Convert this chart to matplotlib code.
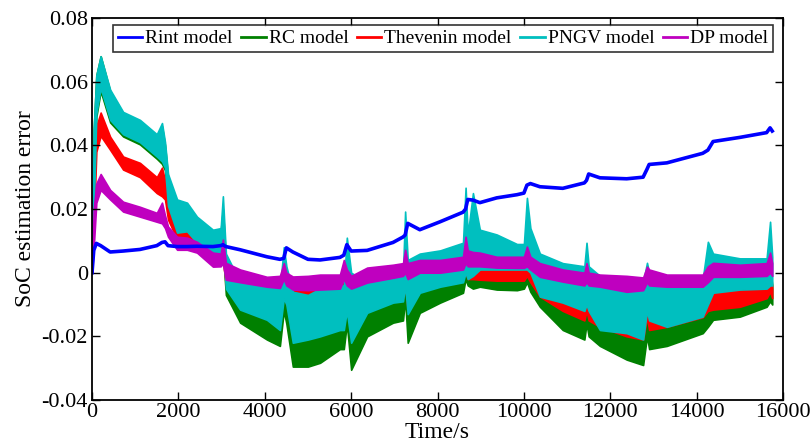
import numpy as np
import matplotlib.pyplot as plt
from matplotlib.lines import Line2D

plt.rcParams['font.family'] = ['Liberation Serif', 'DejaVu Serif']

# time stamps (s) at which the curves were read
t = [0, 40, 100, 200, 420, 720, 1110, 1500, 1620, 1690, 1760, 1970, 2200, 2430,
     2800, 2980, 3030, 3100, 3430, 4050, 4350, 4440, 4500, 4650, 5000, 5280,
     5740, 5830, 5900, 6000, 6370, 6970, 7200, 7250, 7310, 7590, 8060, 8590,
     8650, 8700, 8820, 8980, 9370, 9840, 10000, 10070, 10150, 10370, 10900,
     11400, 11450, 11500, 11760, 12380, 12760, 12850, 12900, 13310, 14140,
     14260, 14380, 15000, 15620, 15700, 15750]

rint = [0.0, 0.007, 0.0092, 0.0085, 0.0065, 0.0068, 0.0073, 0.0085, 0.0095, 0.0097,
        0.0085, 0.0082, 0.0082, 0.0083, 0.0082, 0.0085, 0.0088, 0.0082, 0.0072,
        0.005, 0.0042, 0.0045, 0.0078, 0.0065, 0.0042, 0.004, 0.0048, 0.0055,
        0.0088, 0.0068, 0.007, 0.0095, 0.0112, 0.0118, 0.0155, 0.0135, 0.016,
        0.019, 0.02, 0.023, 0.0228, 0.022, 0.0235, 0.0245, 0.025, 0.0275, 0.028,
        0.027, 0.0265, 0.0282, 0.029, 0.031, 0.0298, 0.0295, 0.030, 0.0325,
        0.034, 0.0345, 0.0375, 0.0385, 0.0412, 0.0425, 0.044, 0.0455, 0.0445]

# noisy series stored as upper / lower envelope of the band
rc_hi = [0.0, 0.045, 0.062, 0.068, 0.057, 0.050, 0.047, 0.043, 0.046, 0.040, 0.030,
         0.022, 0.021, 0.017, 0.013, 0.013, 0.020, 0.004, -0.006, -0.010, -0.013,
         0.004, -0.004, -0.014, -0.015, -0.014, -0.012, -0.010, 0.006, -0.010,
         -0.008, -0.006, -0.005, 0.008, -0.008, -0.003, -0.002, 0.0, 0.010, 0.002,
         0.002, 0.001, 0.0, 0.0, 0.0, 0.005, 0.0, -0.003, -0.006, -0.008, -0.002,
         -0.008, -0.010, -0.012, -0.013, -0.002, -0.010, -0.010, -0.008, 0.0,
         -0.006, -0.005, -0.004, 0.002, -0.004]
rc_lo = [0.0, 0.019, 0.049, 0.057, 0.0472, 0.0428, 0.0403, 0.0358, 0.0342, 0.0322,
         0.0205, 0.012, 0.0125, 0.009, 0.006, 0.0045, 0.007, -0.007, -0.0157,
         -0.021, -0.023, -0.012, -0.016, -0.0295, -0.0295, -0.0283, -0.024, -0.024,
         -0.016, -0.0305, -0.020, -0.0157, -0.015, -0.008, -0.022, -0.0126,
         -0.0094, -0.0063, -0.002, -0.004, -0.005, -0.0044, -0.0053, -0.0055,
         -0.005, -0.003, -0.006, -0.0107, -0.018, -0.021, -0.016, -0.020, -0.023,
         -0.0273, -0.029, -0.020, -0.024, -0.023, -0.019, -0.017, -0.0148,
         -0.0138, -0.0107, -0.009, -0.010]

thev_hi = [0.0, 0.035, 0.046, 0.0503, 0.0427, 0.0365, 0.0345, 0.030, 0.033, 0.029,
           0.021, 0.0157, 0.017, 0.013, 0.0072, 0.007, 0.009, 0.002, -0.003, -0.004,
           -0.005, 0.004, -0.002, -0.005, -0.005, -0.005, -0.005, -0.003, 0.006,
           -0.005, -0.003, -0.002, -0.001, 0.006, -0.002, -0.001, 0.0, 0.002, 0.014,
           0.004, 0.003, 0.002, 0.002, 0.002, 0.002, 0.005, 0.002, -0.001, -0.003,
           -0.004, 0.0, -0.004, -0.006, -0.007, -0.008, 0.0, -0.006, -0.006,
           -0.005, 0.002, -0.006, -0.0055, -0.0045, 0.002, -0.005]
thev_lo = [0.0, 0.015, 0.038, 0.043, 0.0386, 0.0324, 0.030, 0.025, 0.024, 0.023,
           0.0167, 0.0104, 0.0107, 0.008, 0.004, 0.003, 0.004, -0.004, -0.010,
           -0.012, -0.014, -0.006, -0.010, -0.0138, -0.014, -0.013, -0.012, -0.012,
           -0.008, -0.015, -0.010, -0.008, -0.008, -0.004, -0.012, -0.006, -0.004,
           -0.002, 0.0, -0.002, -0.002, -0.0022, -0.0025, -0.0025, -0.0025, -0.001,
           -0.003, -0.0075, -0.012, -0.015, -0.012, -0.015, -0.017, -0.020, -0.021,
           -0.014, -0.018, -0.017, -0.014, -0.012, -0.0116, -0.0107, -0.008,
           -0.006, -0.008]

pngv_hi = [0.0, 0.045, 0.062, 0.068, 0.0575, 0.0505, 0.048, 0.0435, 0.047, 0.041,
           0.031, 0.023, 0.022, 0.0176, 0.0135, 0.014, 0.024, 0.006, -0.003,
           -0.0045, -0.005, 0.008, 0.002, -0.006, -0.007, -0.005, -0.004, -0.004,
           0.011, 0.0, -0.003, -0.002, 0.0, 0.0192, 0.004, 0.006, 0.007, 0.0094,
           0.0267, 0.012, 0.025, 0.0135, 0.012, 0.009, 0.009, 0.0235, 0.014, 0.006,
           0.003, 0.002, 0.0094, 0.002, -0.001, -0.003, -0.003, 0.0031, 0.0,
           -0.002, -0.002, 0.0097, 0.006, 0.0045, 0.0045, 0.016, 0.005]
pngv_lo = [0.0, 0.02, 0.05, 0.058, 0.048, 0.0435, 0.041, 0.0365, 0.035, 0.033,
           0.021, 0.0126, 0.013, 0.0094, 0.0063, 0.005, 0.008, -0.005, -0.0116,
           -0.0148, -0.018, -0.008, -0.010, -0.022, -0.021, -0.020, -0.018, -0.018,
           -0.012, -0.022, -0.0126, -0.0094, -0.009, -0.004, -0.013, -0.0063,
           -0.0044, -0.003, 0.0, -0.002, -0.001, 0.001, 0.001, 0.001, 0.001, 0.001,
           0.0, -0.0075, -0.0094, -0.012, -0.010, -0.012, -0.018, -0.019, -0.021,
           -0.012, -0.015, -0.017, -0.0138, -0.010, -0.0063, -0.0053, -0.005,
           -0.004, -0.004]

dp_hi = [0.0, 0.02, 0.028, 0.031, 0.026, 0.0223, 0.0207, 0.0188, 0.022, 0.018,
         0.0145, 0.0113, 0.011, 0.0097, 0.0063, 0.006, 0.0104, 0.0031, 0.001,
         -0.0013, -0.001, 0.003, 0.0, -0.0012, -0.001, -0.0006, -0.0006, 0.004,
         0.001, -0.001, 0.0016, 0.0025, 0.003, 0.0072, 0.003, 0.004, 0.004, 0.005,
         0.0113, 0.007, 0.0065, 0.0063, 0.005, 0.005, 0.005, 0.0082, 0.005, 0.003,
         0.001, 0.0, 0.003, 0.0, -0.0006, -0.001, -0.0015, 0.0019, 0.001, -0.0006,
         -0.0006, 0.002, 0.0031, 0.0025, 0.003, 0.0063, 0.003]
dp_lo = [0.0, 0.008, 0.022, 0.026, 0.023, 0.0192, 0.0176, 0.016, 0.0155, 0.014,
         0.0113, 0.0072, 0.0072, 0.0063, 0.0019, 0.002, 0.003, -0.0022, -0.003,
         -0.0044, -0.0048, -0.002, -0.004, -0.0053, -0.0055, -0.0053, -0.005,
         -0.002, -0.004, -0.005, -0.0031, -0.0016, -0.001, 0.0, -0.002, 0.0, 0.0,
         0.001, 0.003, 0.002, 0.002, 0.002, 0.0016, 0.0015, 0.0015, 0.002, 0.001,
         -0.0013, -0.0028, -0.004, -0.003, -0.004, -0.0044, -0.006, -0.0055,
         -0.003, -0.004, -0.0044, -0.0044, -0.003, -0.0013, -0.0013, -0.001, 0.0,
         -0.001]

labels = ['Rint model', 'RC model', 'Thevenin model', 'PNGV model', 'DP model']
colors = ['#0000ff', '#008000', '#ff0000', '#00bfbf', '#bf00bf']

fig = plt.figure(figsize=(8.1, 4.47), dpi=100)
ax = fig.add_axes([0.1136, 0.1051, 0.8531, 0.8546])

ax.plot(t, rint, color=colors[0], lw=2.6)
bands = [(rc_hi, rc_lo), (thev_hi, thev_lo), (pngv_hi, pngv_lo), (dp_hi, dp_lo)]
for (hi, lo), c in zip(bands, colors[1:]):
    ax.fill_between(t, lo, hi, color=c, lw=1.2, edgecolor=c)

ax.set_xlim(0, 16000)
ax.set_ylim(-0.04, 0.08)
ax.set_xticks(np.arange(0, 16001, 2000))
ax.set_yticks(np.arange(-0.04, 0.081, 0.02))
ax.set_yticklabels(['-0.04', '-0.02', '0', '0.02', '0.04', '0.06', '0.08'])
ax.tick_params(direction='in', top=True, right=True, length=6, width=1,
               labelsize=16, pad=3)
ax.tick_params(axis='x', pad=2)
for s in ax.spines.values():
    s.set_linewidth(1.3)
ax.set_xlabel('Time/s', fontsize=17, labelpad=0)
ax.set_ylabel('SoC estimation error', fontsize=17, labelpad=4)

handles = [Line2D([], [], color=c, lw=2) for c in colors]
leg = ax.legend(handles, labels, loc='upper right', bbox_to_anchor=(0.9855, 0.9817),
                ncol=5, fontsize=14, frameon=True, fancybox=False,
                handlelength=1.25, handletextpad=0.15, columnspacing=0.45,
                borderpad=0.25, borderaxespad=0)
leg.get_frame().set_edgecolor('black')
leg.get_frame().set_linewidth(1.2)

fig.savefig('out.png', dpi=100)
